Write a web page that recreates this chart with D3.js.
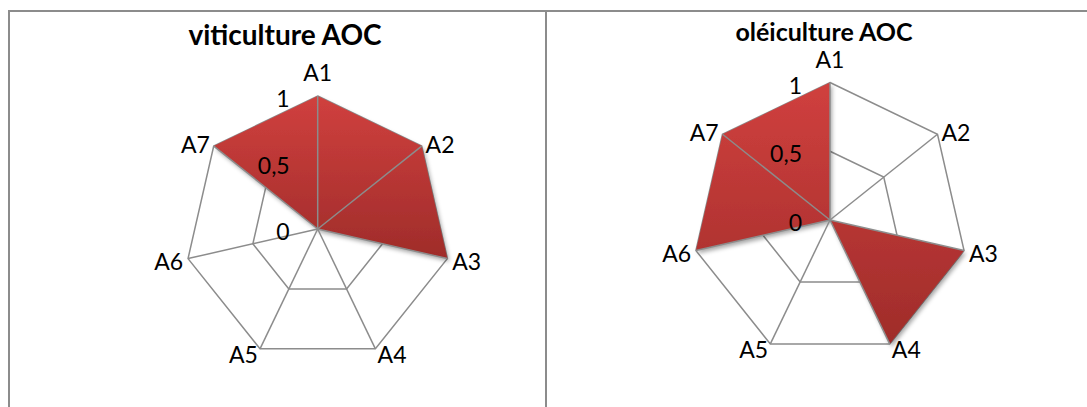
<!DOCTYPE html>
<html>
<head>
<meta charset="utf-8">
<script src="https://cdn.jsdelivr.net/npm/d3@7"></script>
<style>
  body { margin: 0; background: #fff; }
  svg { display: block; font-family: Lato, "Open Sans", sans-serif; }
</style>
</head>
<body>
<svg width="1087" height="407"></svg>
<script>
// data
var categories = ["A1", "A2", "A3", "A4", "A5", "A6", "A7"];
var viticulture = [1, 1, 1, 0, 0, 0, 1];
var oleiculture = [1, 0, 1, 1, 0, 1, 1];
var tickValues = [0, 0.5, 1];
var tickLabels = ["0", "0,5", "1"];
var titles = ["viticulture AOC", "oléiculture AOC"];

var svg = d3.select("svg");

// gradient + shadow used by both fills
var defs = svg.append("defs");
var grad = defs.append("linearGradient")
    .attr("id", "redfill")
    .attr("x1", 0).attr("y1", 0).attr("x2", 0).attr("y2", 1);
grad.append("stop").attr("offset", "0%").attr("stop-color", "#d0403e");
grad.append("stop").attr("offset", "100%").attr("stop-color", "#9f2c2a");

var shadow = defs.append("filter")
    .attr("id", "shadow")
    .attr("x", "-20%").attr("y", "-20%")
    .attr("width", "140%").attr("height", "140%");
shadow.append("feDropShadow")
    .attr("dx", 2).attr("dy", 3)
    .attr("stdDeviation", 2)
    .attr("flood-color", "#000")
    .attr("flood-opacity", 0.35);

// panel frame
var frame = svg.append("g")
    .attr("stroke", "#8c8c8c")
    .attr("stroke-width", 2);
frame.append("line").attr("x1", 8).attr("y1", 11).attr("x2", 1087).attr("y2", 11);
frame.append("line").attr("x1", 9).attr("y1", 11).attr("x2", 9).attr("y2", 407);
frame.append("line").attr("x1", 546).attr("y1", 11).attr("x2", 546).attr("y2", 407);

var charts = [
    { title: titles[0], values: viticulture, cx: 317.7, cy: 229, r: 133, tx: 285, ty: 45, tsize: 28 },
    { title: titles[1], values: oleiculture, cx: 830, cy: 220, r: 137.5, tx: 824, ty: 41, tsize: 25 }
];

charts.forEach(function(c) {
    var g = svg.append("g")
        .attr("transform", "translate(" + c.cx + "," + c.cy + ")");

    var rScale = d3.scaleLinear().domain([0, 1]).range([0, c.r]);
    var angle = d3.scaleLinear()
        .domain([0, categories.length])
        .range([0, 2 * Math.PI]);

    var radial = d3.lineRadial()
        .angle(function(d, i) { return angle(i); })
        .radius(function(d) { return rScale(d); })
        .curve(d3.curveLinearClosed);

    // rings (below the fill)
    g.selectAll(".ring")
        .data(tickValues.filter(function(t) { return t > 0; }))
        .enter().append("path")
        .attr("class", "ring")
        .attr("d", function(t) { return radial(categories.map(function() { return t; })); })
        .attr("fill", "none")
        .attr("stroke", "#8c8c8c")
        .attr("stroke-width", 1.5);

    // filled series
    g.append("path")
        .datum(c.values)
        .attr("d", radial)
        .attr("fill", "url(#redfill)")
        .attr("filter", "url(#shadow)");

    // spokes on top
    g.selectAll(".spoke")
        .data(categories)
        .enter().append("line")
        .attr("class", "spoke")
        .attr("x1", 0).attr("y1", 0)
        .attr("x2", function(d, i) { return rScale(1) * Math.sin(angle(i)); })
        .attr("y2", function(d, i) { return -rScale(1) * Math.cos(angle(i)); })
        .attr("stroke", "#8c8c8c")
        .attr("stroke-width", 1.5);

    // category labels
    g.selectAll(".cat")
        .data(categories)
        .enter().append("text")
        .attr("class", "cat")
        .attr("font-size", 23)
        .attr("fill", "#000")
        .each(function(d, i) {
            var a = angle(i), s = Math.sin(a), co = Math.cos(a);
            var rr = rScale(1) + 5;
            var t = d3.select(this).text(d);
            if (Math.abs(s) < 0.1) {
                t.attr("x", 0).attr("y", -rScale(1) - 15).attr("text-anchor", "middle");
            } else {
                t.attr("x", rr * s).attr("y", -rr * co + 1)
                    .attr("dominant-baseline", "central")
                    .attr("text-anchor", s > 0 ? "start" : "end");
            }
        });

    // value axis labels
    g.selectAll(".tick")
        .data(tickValues)
        .enter().append("text")
        .attr("class", "tick")
        .attr("x", -28)
        .attr("y", function(t) { return -rScale(t) + 2; })
        .attr("dominant-baseline", "central")
        .attr("text-anchor", "end")
        .attr("font-size", 23)
        .attr("fill", "#000")
        .text(function(t, i) { return tickLabels[i]; });

    // title
    svg.append("text")
        .attr("x", c.tx)
        .attr("y", c.ty)
        .attr("text-anchor", "middle")
        .attr("font-size", c.tsize)
        .attr("font-weight", "bold")
        .attr("fill", "#000")
        .text(c.title);
});
</script>
</body>
</html>
